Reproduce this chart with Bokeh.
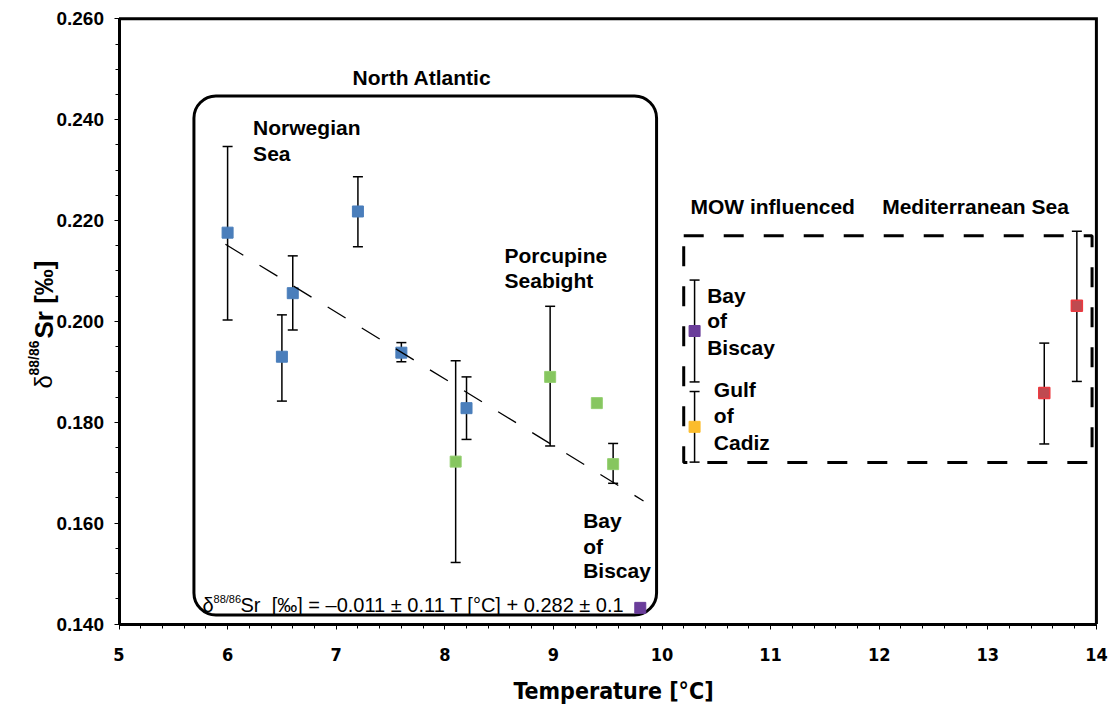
import math
from bokeh.plotting import figure
from bokeh.models import (ColumnDataSource, Whisker, BoxAnnotation, Label,
                          FixedTicker, TeeHead, NumeralTickFormatter)
from bokeh.embed import file_html
from bokeh.resources import INLINE

# ---------------- data ----------------
# North Atlantic - Norwegian Sea
nor_temp = [6.0, 6.5, 6.6, 7.2, 7.6, 8.2]
nor_sr = [0.2176, 0.1930, 0.2056, 0.2218, 0.1938, 0.1828]
nor_hi = [0.2347, 0.2013, 0.2130, 0.2287, 0.1958, 0.1890]
nor_lo = [0.2003, 0.1842, 0.1983, 0.2148, 0.1920, 0.1766]

# North Atlantic - Porcupine Seabight
por_temp = [8.1, 8.97, 9.4, 9.55]
por_sr = [0.1722, 0.1890, 0.1838, 0.1717]
por_hi = [0.1922, 0.2030, None, 0.1758]
por_lo = [0.1522, 0.1753, None, 0.1679]

# North Atlantic - Bay of Biscay
bna_temp = [9.8]
bna_sr = [0.1432]

# MOW influenced - Bay of Biscay
bmow_temp = [10.3]
bmow_sr = [0.1981]
bmow_hi = [0.2082]
bmow_lo = [0.1880]

# MOW influenced - Gulf of Cadiz
cad_temp = [10.3]
cad_sr = [0.1791]
cad_hi = [0.1861]
cad_lo = [0.1721]

# Mediterranean Sea
med_temp = [13.52, 13.82]
med_sr = [0.1858, 0.2031]
med_hi = [0.1957, 0.2179]
med_lo = [0.1757, 0.1881]

# regression line end points
fit_temp = [5.98, 9.83]
fit_sr = [0.2153, 0.1644]

# region outlines
na_region = [5.69, 9.95, 0.1418, 0.2447]      # left, right, bottom, top
mow_region = [10.20, 13.96, 0.1720, 0.2170]

x_lim = (5, 14)
y_lim = (0.14, 0.26)
x_ticks = [5, 6, 7, 8, 9, 10, 11, 12, 13, 14]
y_ticks = [0.140, 0.160, 0.180, 0.200, 0.220, 0.240, 0.260]

FONT = "Liberation Sans"
NARROW = "DejaVu Sans Condensed, Liberation Sans"

# ---------------- layout geometry (pixels) ----------------
W, H = 1115, 709
X0PX = 118.5          # pixel column of x = 5
XS = 108.6            # pixels per degree
Y0PX = 623.5          # pixel row of y = 0.140
YS = 5043.0           # pixels per unit of delta

def dx(px):
    return x_lim[0] + (px - X0PX) / XS

def dy(px):
    return y_lim[0] + (Y0PX - px) / YS

# the plotting frame covers the whole canvas; axes are pinned to the data box
p = figure(width=W, height=H, x_range=(dx(0), dx(W)), y_range=(dy(H), dy(0)),
           output_backend="svg", toolbar_location=None,
           min_border_left=0, min_border_right=0,
           min_border_top=0, min_border_bottom=0)
p.grid.visible = False
p.outline_line_color = None
p.background_fill_color = "white"
p.border_fill_color = "white"

# axes
p.xaxis.ticker = FixedTicker(ticks=x_ticks,
                             minor_ticks=[5 + i * 0.2 for i in range(46)])
p.yaxis.ticker = FixedTicker(ticks=y_ticks,
                             minor_ticks=[0.14 + i * 0.005 for i in range(25)])
p.yaxis.formatter = NumeralTickFormatter(format="0.000")
p.xaxis.bounds = x_lim
p.yaxis.bounds = y_lim
p.yaxis.fixed_location = x_lim[0]
p.xaxis.fixed_location = y_lim[0]
for ax in (p.xaxis[0], p.yaxis[0]):
    ax.axis_line_width = 3
    ax.axis_line_color = "black"
    ax.major_tick_in = 0
    ax.major_tick_out = 5
    ax.minor_tick_in = 0
    ax.minor_tick_out = 4
    ax.major_tick_line_color = "black"
    ax.minor_tick_line_color = "black"
    ax.major_label_text_color = "black"
    ax.major_label_text_font_style = "bold"

p.xaxis.major_label_text_font = NARROW
p.xaxis.major_label_text_font_size = "18px"
p.xaxis.major_label_standoff = 19

p.yaxis.major_label_text_font = FONT
p.yaxis.major_label_text_font_size = "19px"
p.yaxis.major_label_standoff = 10

# top and right edges of the plot area
p.line([x_lim[0], x_lim[1], x_lim[1]], [y_lim[1], y_lim[1], y_lim[0]],
       line_color="black", line_width=3, line_join="miter")

# region outlines
na_box = BoxAnnotation(left=na_region[0], right=na_region[1],
                       bottom=na_region[2], top=na_region[3],
                       fill_alpha=0, line_color="black", line_alpha=1.0,
                       line_width=3, border_radius=22, level="underlay")
p.add_layout(na_box)

l, r, b, t = mow_region
p.line([l, r, r, l, l], [t, t, b, b, t], line_color="black", line_width=3,
       line_dash="20 20")

# error bars
def add_errors(temp, hi, lo):
    keep = [i for i in range(len(temp)) if hi[i] is not None]
    src = ColumnDataSource(dict(t=[temp[i] for i in keep],
                                hi=[hi[i] for i in keep],
                                lo=[lo[i] for i in keep]))
    w = Whisker(base="t", upper="hi", lower="lo", source=src,
                dimension="height", line_color="black", line_width=1.5,
                upper_head=TeeHead(size=10, line_width=1.5, line_color="black"),
                lower_head=TeeHead(size=10, line_width=1.5, line_color="black"),
                level="underlay")
    p.add_layout(w)

add_errors(nor_temp, nor_hi, nor_lo)
add_errors(por_temp, por_hi, por_lo)
add_errors(bmow_temp, bmow_hi, bmow_lo)
add_errors(cad_temp, cad_hi, cad_lo)
add_errors(med_temp, med_hi, med_lo)

# markers
p.scatter(nor_temp, nor_sr, marker="square", size=11, fill_color="#4a7ebb",
          line_color="#4a7ebb")
p.scatter(por_temp, por_sr, marker="square", size=11, fill_color="#86c65f",
          line_color="#95cf72")
p.scatter(bna_temp, bna_sr, marker="square", size=11, fill_color="#6a3d9a",
          line_color="#6a3d9a")
p.scatter(bmow_temp, bmow_sr, marker="square", size=11, fill_color="#6a3d9a",
          line_color="#6a3d9a")
p.scatter(cad_temp, cad_sr, marker="square", size=11, fill_color="#fbbc2b",
          line_color="#fbbc2b")
p.scatter(med_temp, med_sr, marker="square", size=11, fill_color="#bf4a50",
          line_color="#ec3a40", line_width=1.5)

# regression line
p.line(fit_temp, fit_sr, line_color="black", line_width=1.3, line_dash="21 19")

# text labels
def lab(x, y, text, size="21px", style="bold", align="left", font=FONT, **kw):
    p.add_layout(Label(x=x, y=y, text=text, text_font=font,
                       text_font_size=size, text_font_style=style,
                       text_color="black", text_align=align,
                       text_baseline="alphabetic", **kw))

UP = 0.0014  # small upward shift for region labels
lab(7.79, 0.2470 + UP, "North Atlantic", align="center")
lab(6.235, 0.23704 + UP, "Norwegian")
lab(6.235, 0.23188 + UP, "Sea")
lab(8.55, 0.21158 + UP, "Porcupine")
lab(8.55, 0.20662 + UP, "Seabight")
lab(9.274, 0.15905 + UP, "Bay")
lab(9.274, 0.15389 + UP, "of")
lab(9.274, 0.14913 + UP, "Biscay")
lab(10.262, 0.22131 + UP, "MOW influenced")
lab(12.027, 0.22131 + UP, "Mediterranean Sea")
lab(10.416, 0.20376 + UP, "Bay")
lab(10.416, 0.19880 + UP, "of")
lab(10.416, 0.19352 + UP, "Biscay")
lab(10.477, 0.18505 + UP, "Gulf")
lab(10.477, 0.17995 + UP, "of")
lab(10.477, 0.17467 + UP, "Cadiz")

# regression equation
ex, ey = 5.769, 0.1437
lab(ex, ey, "δ", size="20px", style="normal")
lab(ex, ey, "88/86", size="11px", style="normal", x_offset=11, y_offset=6)
lab(ex, ey, "Sr\u00a0\u00a0[‰] = –0.011 ± 0.11 T [°C] + 0.282 ± 0.1",
    size="20px", style="normal", x_offset=38)

# x axis title
lab(dx(613), dy(690), "Temperature [°C]", size="23px", style="bold",
    align="center", font=NARROW)

# y axis title (rotated pieces, left of the y axis)
yx, yy = dx(43), dy(388)
lab(yx, yy, "δ", size="24px", style="normal", angle=math.pi / 2)
lab(yx, yy, "88/86", size="14px", style="bold", angle=math.pi / 2,
    x_offset=-10, y_offset=13)
lab(yx, yy, "Sr [‰]", size="26px", style="bold", angle=math.pi / 2,
    y_offset=50)

open("out.html", "w").write(file_html(p, INLINE))
